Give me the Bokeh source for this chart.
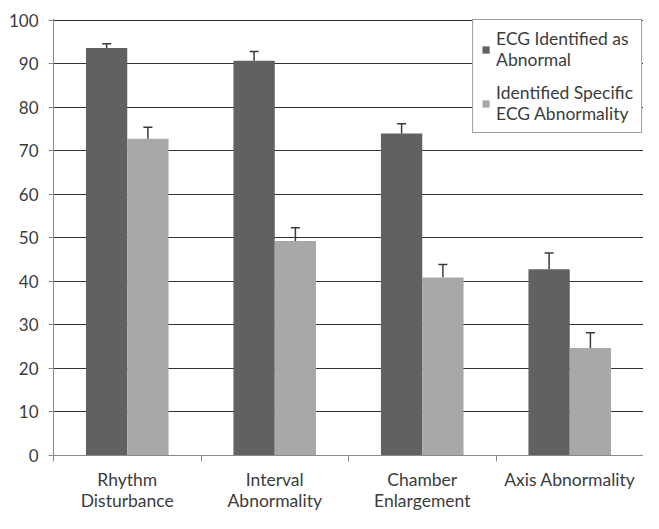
import numpy as np
from bokeh.plotting import figure
from bokeh.models import (ColumnDataSource, Range1d, FixedTicker, Whisker, TeeHead,
                          Legend, LegendItem)
from bokeh.embed import file_html
from bokeh.resources import INLINE

categories = ["Rhythm\nDisturbance", "Interval\nAbnormality", "Chamber\nEnlargement", "Axis Abnormality"]
series_names = ["ECG Identified as\nAbnormal", "Identified Specific\nECG Abnormality"]
identified_abnormal = [93.6, 90.7, 74.0, 42.8]
identified_abnormal_err = [1.0, 2.1, 2.2, 3.7]
identified_specific = [72.8, 49.3, 40.9, 24.7]
identified_specific_err = [2.6, 3.0, 3.0, 3.5]
y_ticks = [0, 10, 20, 30, 40, 50, 60, 70, 80, 90, 100]

DARK = "#606163"
LIGHT = "#a7a8aa"
TEXT = "#3c3c3c"
FONT = "Lato"

idx = np.arange(len(categories)) + 0.5
offset = 0.14
bar_w = 0.28

src_a = ColumnDataSource(dict(
    x=idx - offset, top=identified_abnormal,
    upper=np.array(identified_abnormal) + np.array(identified_abnormal_err)))
src_b = ColumnDataSource(dict(
    x=idx + offset, top=identified_specific,
    upper=np.array(identified_specific) + np.array(identified_specific_err)))

p = figure(width=643, height=513, output_backend="svg", toolbar_location=None,
           x_range=Range1d(0, len(categories)), y_range=Range1d(0, 100.4),
           min_border_left=53, min_border_right=0, min_border_top=18, min_border_bottom=57)
p.outline_line_color = None
p.background_fill_color = "white"
p.border_fill_color = "white"

# grid
p.xgrid.grid_line_color = None
p.ygrid.grid_line_color = "#333333"
p.ygrid.grid_line_width = 1

# y axis
p.yaxis.ticker = FixedTicker(ticks=y_ticks)
p.yaxis.axis_line_color = "#8a8a8a"
p.yaxis.major_tick_line_color = "#8a8a8a"
p.yaxis.major_tick_out = 5
p.yaxis.major_tick_in = 0
p.yaxis.minor_tick_line_color = None
p.yaxis.major_label_text_font = FONT
p.yaxis.major_label_text_font_size = "17px"
p.yaxis.major_label_text_color = TEXT
p.yaxis.major_label_standoff = 10

# x axis: labels at category centres, ticks at category boundaries
p.xaxis.ticker = FixedTicker(ticks=list(idx), minor_ticks=list(range(len(categories) + 1)))
p.xaxis.major_label_overrides = {float(v): c for v, c in zip(idx, categories)}
p.xaxis.axis_line_color = "#8a8a8a"
p.xaxis.major_tick_line_color = None
p.xaxis.major_tick_out = 0
p.xaxis.major_tick_in = 0
p.xaxis.minor_tick_line_color = "#8a8a8a"
p.xaxis.minor_tick_out = 6
p.xaxis.minor_tick_in = 0
p.xaxis.major_label_text_font = FONT
p.xaxis.major_label_text_font_size = "17.5px"
p.xaxis.major_label_text_color = TEXT
p.xaxis.major_label_text_line_height = 1.0
p.xaxis.major_label_standoff = 7

r_a = p.vbar(x="x", top="top", width=bar_w, source=src_a, fill_color=DARK, line_color=None)
r_b = p.vbar(x="x", top="top", width=bar_w, source=src_b, fill_color=LIGHT, line_color=None)

for src in (src_a, src_b):
    w = Whisker(base="x", upper="upper", lower="top", source=src,
                line_color="#3a3a3a", line_width=1.5,
                upper_head=TeeHead(size=9, line_color="#3a3a3a", line_width=1.5),
                lower_head=None)
    p.add_layout(w)

legend = Legend(items=[LegendItem(label=series_names[0], renderers=[r_a]),
                       LegendItem(label=series_names[1], renderers=[r_b])],
                location="top_right")
legend.label_text_font = FONT
legend.label_text_font_size = "17.5px"
legend.label_text_color = TEXT
legend.label_text_line_height = 1.45
legend.glyph_width = 9
legend.glyph_height = 9
legend.label_standoff = 6
legend.padding = 8
legend.spacing = 12
legend.border_line_color = "#404040"
legend.border_line_width = 1
legend.background_fill_alpha = 1
legend.margin = 1
p.add_layout(legend, "center")

open("out.html", "w").write(file_html(p, INLINE))
